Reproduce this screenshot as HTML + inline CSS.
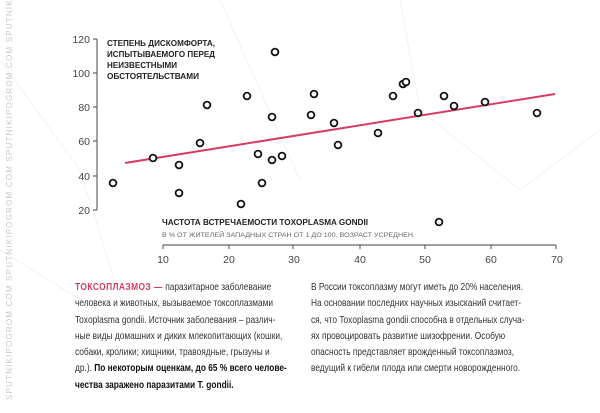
<!DOCTYPE html>
<html><head><meta charset="utf-8"><style>
body{margin:0;background:#fff;}
svg text{font-family:"Liberation Sans",sans-serif;}
.t{position:absolute;font-family:"Liberation Sans",sans-serif;font-size:10.3px;line-height:16.3px;color:#333;white-space:nowrap;transform:scaleX(0.81);transform-origin:0 0;}
</style></head><body>
<div style="position:relative;width:600px;height:413px;overflow:hidden;background:#fff">
<svg width="600" height="413" style="position:absolute;left:0;top:0">
<g stroke="#f2f2f2" stroke-width="1" fill="none">
<path d="M0 60 L80 170 L130 330 L0 250"/><path d="M400 0 L420 110 L520 190 L600 130"/><path d="M220 0 L300 180"/>
</g>
<text transform="translate(12,400) rotate(-90)" font-size="8" fill="#c8c8c8" letter-spacing="1.2">SPUTNIKIPOGROM.COM  SPUTNIKIPOGROM.COM  SPUTNIKIPOGROM.COM  SPUTNIKIPOGROM.COM</text>
<g stroke="#666" stroke-width="1.2" fill="none">
<path d="M97 39 V210"/><path d="M93 39H97M93 73H97M93 107H97M93 141H97M93 176H97M93 210H97"/>
<path d="M163 245 H556"/><path d="M163 245v4M229 245v4M293 245v4M360 245v4M425 245v4M491 245v4M556 245v4"/>
</g>
<g font-size="10.5" fill="#444" text-anchor="end">
<text x="90" y="43">120</text><text x="90" y="77">100</text><text x="90" y="111">80</text><text x="90" y="145">60</text><text x="90" y="180">40</text><text x="90" y="214">20</text>
</g>
<g font-size="10.5" fill="#444" text-anchor="middle">
<text x="163" y="263">10</text><text x="229" y="263">20</text><text x="294" y="263">30</text><text x="360" y="263">40</text><text x="425" y="263">50</text><text x="491" y="263">60</text><text x="557" y="263">70</text>
</g>
<g font-size="8.6" font-weight="bold" fill="#222">
<text x="107" y="46" textLength="108" lengthAdjust="spacingAndGlyphs">СТЕПЕНЬ ДИСКОМФОРТА,</text>
<text x="107" y="57" textLength="108" lengthAdjust="spacingAndGlyphs">ИСПЫТЫВАЕМОГО ПЕРЕД</text>
<text x="107" y="68" textLength="70" lengthAdjust="spacingAndGlyphs">НЕИЗВЕСТНЫМИ</text>
<text x="107" y="79" textLength="92" lengthAdjust="spacingAndGlyphs">ОБСТОЯТЕЛЬСТВАМИ</text>
<text x="162" y="225" textLength="206" lengthAdjust="spacingAndGlyphs">ЧАСТОТА ВСТРЕЧАЕМОСТИ TOXOPLASMA GONDII</text>
</g>
<text x="162" y="237" font-size="6.8" fill="#666" textLength="251" lengthAdjust="spacingAndGlyphs">В % ОТ ЖИТЕЛЕЙ ЗАПАДНЫХ СТРАН ОТ 1 ДО 100. ВОЗРАСТ УСРЕДНЕН</text>
<line x1="125" y1="163" x2="555" y2="94" stroke="#d63c62" stroke-width="2"/>
<g fill="#fff" stroke="#111" stroke-width="1.8">
<circle cx="113" cy="183" r="3.4"/><circle cx="153" cy="158" r="3.4"/><circle cx="179" cy="165" r="3.4"/><circle cx="179" cy="193" r="3.4"/><circle cx="200" cy="143" r="3.4"/><circle cx="207" cy="105" r="3.4"/><circle cx="241" cy="204" r="3.4"/><circle cx="247" cy="96" r="3.4"/><circle cx="258" cy="154" r="3.4"/><circle cx="262" cy="183" r="3.4"/><circle cx="272" cy="117" r="3.4"/><circle cx="272" cy="160" r="3.4"/><circle cx="275" cy="52" r="3.4"/><circle cx="282" cy="156" r="3.4"/><circle cx="314" cy="94" r="3.4"/><circle cx="311" cy="115" r="3.4"/><circle cx="334" cy="123" r="3.4"/><circle cx="338" cy="145" r="3.4"/><circle cx="378" cy="133" r="3.4"/><circle cx="393" cy="96" r="3.4"/><circle cx="403" cy="84" r="3.4"/><circle cx="406" cy="82" r="3.4"/><circle cx="418" cy="113" r="3.4"/><circle cx="439" cy="222" r="3.4"/><circle cx="444" cy="96" r="3.4"/><circle cx="454" cy="106" r="3.4"/><circle cx="485" cy="102" r="3.4"/><circle cx="537" cy="113" r="3.4"/>
</g>
</svg>
<div class="t" style="left:75px;top:280px"><b style="color:#d63c62;letter-spacing:0.6px">ТОКСОПЛАЗМОЗ —</b> паразитарное заболевание<br>человека и животных, вызываемое токсоплазмами<br>Toxoplasma gondii. Источник заболевания – различ-<br>ные виды домашних и диких млекопитающих (кошки,<br>собаки, кролики; хищники, травоядные, грызуны и<br>др.). <b style="color:#111">По некоторым оценкам, до 65 % всего челове-<br>чества заражено паразитами T. gondii.</b></div>
<div class="t" style="left:311px;top:280px">В России токсоплазму могут иметь до 20% населения.<br>На основании последних научных изысканий считает-<br>ся, что Toxoplasma gondii способна в отдельных случа-<br>ях провоцировать развитие шизофрении. Особую<br>опасность представляет врожденный токсоплазмоз,<br>ведущий к гибели плода или смерти новорожденного.</div>
</div>
</body></html>
